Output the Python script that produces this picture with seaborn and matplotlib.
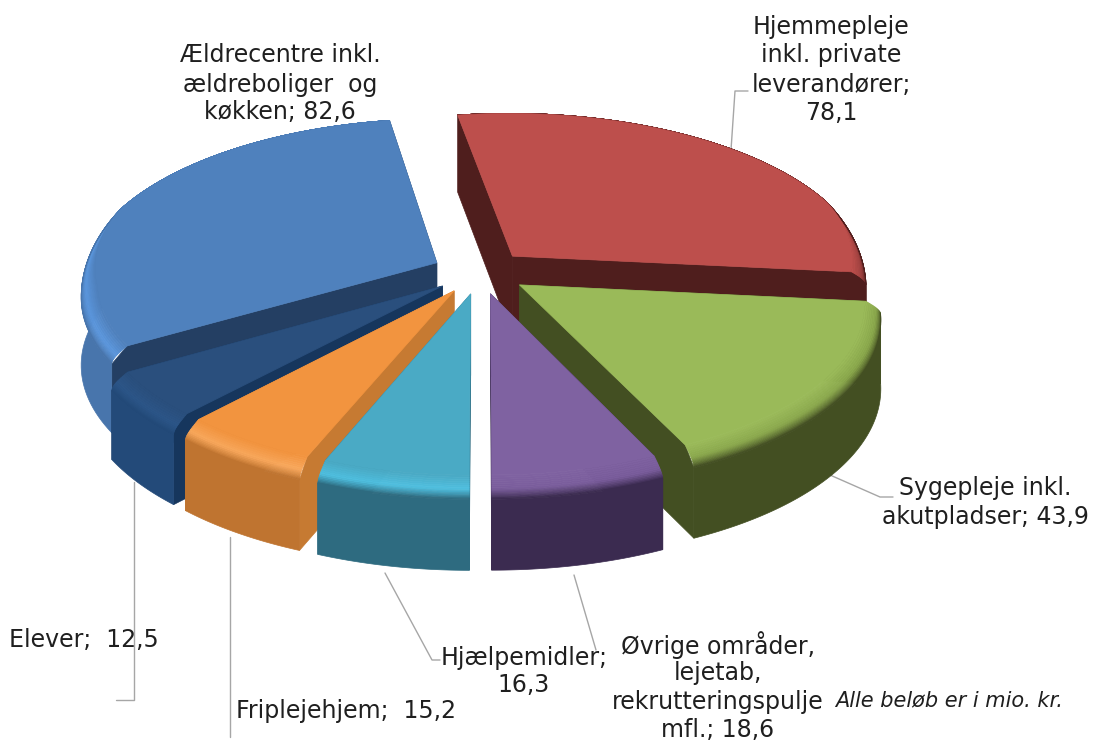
# 3D style exploded pie, drawn by hand because matplotlib has no 3D pie
import numpy as np
import matplotlib
matplotlib.use('Agg')
import matplotlib.pyplot as plt
from matplotlib.patches import Polygon
import seaborn as sns

# Chart values (clockwise from the red slice)
categories = ['Hjemmepleje', 'Sygepleje', 'Øvrige', 'Hjælpemidler', 'Friplejehjem', 'Elever', 'Ældrecentre']
values = [78.1, 43.9, 18.6, 16.3, 15.2, 12.5, 82.6]

top_colors = ['#bd4f4c', '#9aba59', '#7f62a1', '#4aaac5', '#f2943f', '#2a4f7d', '#4f81bd']
rim_colors = ['#a04240', '#8aa84c', '#7a5d9c', '#4fc0e0', '#f9a85c', '#2c5688', '#5b97dd']
side_colors = ['#4f1e1d', '#434f22', '#3b2b50', '#2e6b80', '#bf7430', '#234a79', '#4875ac']
wall_colors = ['#4f1e1d', '#434f22', '#3b2b50', '#2e6b80', '#c67a32', '#16365d', '#243f63']
draw_order = ['Hjemmepleje', 'Ældrecentre', 'Elever', 'Sygepleje', 'Friplejehjem', 'Øvrige', 'Hjælpemidler']

# text lines: (text, x centre, y centre)
label_lines = [
    ('Hjemmepleje', 831, 27), ('inkl. private', 831, 55), ('leverandører;', 831, 85), ('78,1', 831, 113),
    ('Ældrecentre inkl.', 280, 55), ('ældreboliger  og', 280, 85), ('køkken; 82,6', 280, 112),
    ('Sygepleje inkl.', 985, 488), ('akutpladser; 43,9', 985, 517),
    ('Øvrige områder,', 718, 645), ('lejetab,', 718, 673), ('rekrutteringspulje', 718, 702), ('mfl.; 18,6', 718, 730),
    ('Hjælpemidler;', 524, 658), ('16,3', 524, 685),
    ('Friplejehjem;  15,2', 346, 711), ('Elever;  12,5', 84, 640),
]

leader_x = [[731, 735, 748], [830, 880, 893], [574, 596], [385, 432, 440], [134, 134, 116], [230, 230]]
leader_y = [[150, 91, 91], [475, 497, 497], [575, 650], [573, 660, 660], [482, 700, 700], [537, 737]]

# projection settings
cx, cy = 480, 272
rad_x, rad_y, persp = 355, 163, 0.117
depth = 81
explode = 0.135
start_angle = -9.4
rim_width = 0.045

sns.set_theme(style='white')
plt.rcParams['font.family'] = ['DejaVu Sans']

fig = plt.figure(figsize=(10.96, 7.42), dpi=100)
ax = fig.add_axes([0, 0, 1, 1])
ax.set_xlim(0, 1096)
ax.set_ylim(742, 0)
ax.axis('off')


def project(u, v, z=0.0):
    w = 1 + persp * v
    return cx + rad_x * u / w, cy - rad_y * v / w + depth * z / (1 + 0.4 * persp * v)


def point(theta, r, off, z=0.0):
    return project(off[0] + r * np.sin(theta), off[1] + r * np.cos(theta), z)


def rim_share(theta):
    # the rounded rim only shows on the near part of the pie
    return np.clip((0.35 - np.cos(theta)) / 0.5, 0, 1)


def inner_radius(theta):
    return 1 - rim_width * rim_share(theta)


def add_poly(pts, color, zorder):
    ax.add_patch(Polygon(pts, closed=True, facecolor=color, edgecolor=color, linewidth=0.5, zorder=zorder))


angles = np.cumsum([0] + values) / sum(values) * 360 + start_angle

for name in draw_order:
    i = categories.index(name)
    a0, a1 = np.radians(angles[i]), np.radians(angles[i + 1])
    mid = (a0 + a1) / 2
    off = (explode * np.sin(mid), explode * np.cos(mid))
    z_base = draw_order.index(name) * 10
    arc = np.linspace(a0, a1, 80)
    lip = 0.17

    # flat walls along the two radial edges
    for a in (a0, a1):
        wall = [point(a, 0, off), point(a, inner_radius(a), off), point(a, 1, off, lip * rim_share(a)),
                point(a, 1, off, 1), point(a, 0, off, 1)]
        add_poly(wall, wall_colors[i], z_base + 1)

    # outer side, only the part facing the viewer
    front = arc[np.cos(arc) < 0.25]
    if len(front) > 1:
        side = [point(a, 1, off, lip * rim_share(a)) for a in front] + [point(a, 1, off, 1) for a in front[::-1]]
        add_poly(side, side_colors[i], z_base + 2)

    # rounded rim between the top and the side
    n_rim = 14
    shades = sns.blend_palette([top_colors[i], rim_colors[i], side_colors[i]], n_rim)
    for j in range(n_rim):
        t0, t1 = j / n_rim, (j + 1) / n_rim
        r0 = [inner_radius(a) + (1 - inner_radius(a)) * np.sin(t0 * np.pi / 2) for a in arc]
        r1 = [inner_radius(a) + (1 - inner_radius(a)) * np.sin(t1 * np.pi / 2) for a in arc]
        strip = [point(a, r, off, lip * t0 * rim_share(a)) for a, r in zip(arc, r0)]
        strip += [point(a, r, off, lip * t1 * rim_share(a)) for a, r in zip(arc[::-1], r1[::-1])]
        add_poly(strip, shades[j], z_base + 3)

    # top face
    top = [point(0, 0, off)] + [point(a, inner_radius(a), off) for a in arc]
    add_poly(top, top_colors[i], z_base + 4)

# leader lines
for lx, ly in zip(leader_x, leader_y):
    ax.plot(lx, ly, color='#a6a6a6', lw=1, zorder=1)

for txt, x, y in label_lines:
    ax.text(x, y, txt, ha='center', va='center', fontsize=17, color='#1f1f1f', zorder=100)

ax.text(949, 700, 'Alle beløb er i mio. kr.', ha='center', va='center', fontsize=15,
        style='italic', color='#1f1f1f', zorder=100)

plt.savefig('out.png', dpi=100)
